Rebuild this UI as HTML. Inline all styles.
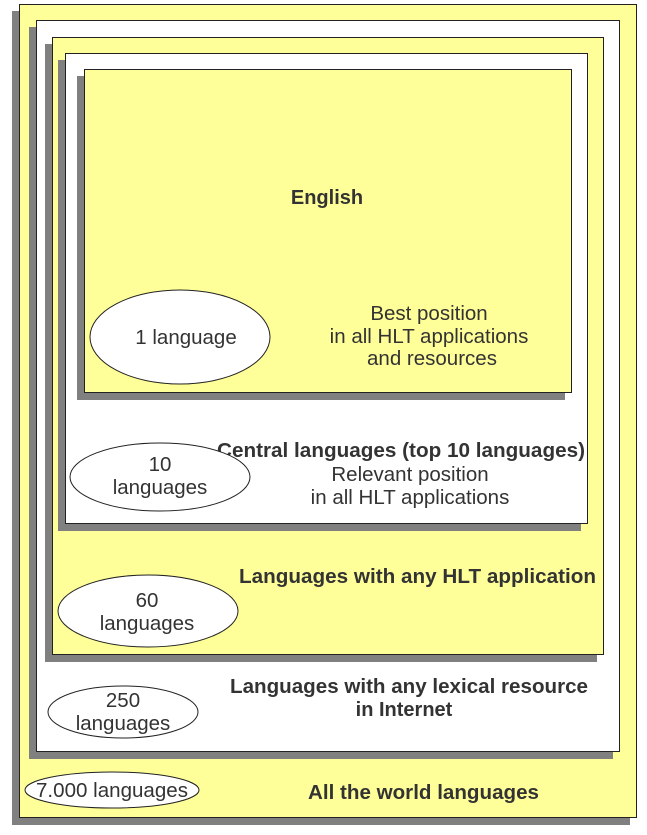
<!DOCTYPE html>
<html><head><meta charset="utf-8"><style>
html,body{margin:0;padding:0;background:#fff;}
svg{display:block;}
text{font-family:"Liberation Sans",sans-serif;fill:#333;}
.b{font-weight:bold;font-size:20px;}
.r{font-size:20.5px;}
</style></head><body>
<svg width="647" height="835" viewBox="0 0 647 835">
<rect x="12" y="11" width="618" height="814" fill="#808080"/>
<rect x="19.5" y="4.5" width="617" height="813" fill="#ffff99" stroke="#222" stroke-width="1"/>
<rect x="29" y="27" width="584" height="732" fill="#808080"/>
<rect x="36.5" y="20.5" width="583" height="731" fill="#fff" stroke="#222"/>
<rect x="45" y="44" width="552" height="618" fill="#808080"/>
<rect x="52.5" y="37.5" width="551" height="617" fill="#ffff99" stroke="#222"/>
<rect x="58" y="60" width="523" height="471" fill="#808080"/>
<rect x="65.5" y="53.5" width="522" height="470" fill="#fff" stroke="#222"/>
<rect x="77" y="76" width="488" height="324" fill="#808080"/>
<rect x="84.5" y="69.5" width="487" height="323" fill="#ffff99" stroke="#222"/>

<text class="b" x="327" y="204" text-anchor="middle">English</text>
<text class="r" x="429" y="320" text-anchor="middle">Best position</text>
<text class="r" x="429" y="343" text-anchor="middle">in all HLT applications</text>
<text class="r" x="432" y="365" text-anchor="middle">and resources</text>

<text class="b" x="217" y="457" textLength="368" lengthAdjust="spacingAndGlyphs">Central languages (top 10 languages)</text>
<text class="r" x="410" y="481" text-anchor="middle">Relevant position</text>
<text class="r" x="410" y="504" text-anchor="middle">in all HLT applications</text>

<text class="b" x="239" y="583" textLength="357" lengthAdjust="spacingAndGlyphs">Languages with any HLT application</text>
<text class="b" x="230" y="693" textLength="358" lengthAdjust="spacingAndGlyphs">Languages with any lexical resource</text>
<text class="b" x="404" y="716" text-anchor="middle">in Internet</text>
<text class="b" x="308" y="799" textLength="231" lengthAdjust="spacingAndGlyphs">All the world languages</text>

<ellipse cx="180" cy="337" rx="90" ry="47" fill="#fff" stroke="#222"/>
<text class="r" x="186" y="344" text-anchor="middle">1 language</text>
<ellipse cx="160" cy="477" rx="90" ry="34" fill="#fff" stroke="#222"/>
<text class="r" x="160" y="471" text-anchor="middle">10</text>
<text class="r" x="160" y="494" text-anchor="middle">languages</text>
<ellipse cx="148" cy="611" rx="90" ry="36" fill="#fff" stroke="#222"/>
<text class="r" x="147" y="607" text-anchor="middle">60</text>
<text class="r" x="147" y="630" text-anchor="middle">languages</text>
<ellipse cx="123" cy="712" rx="75" ry="26" fill="#fff" stroke="#222"/>
<text class="r" x="123" y="707" text-anchor="middle">250</text>
<text class="r" x="123" y="730" text-anchor="middle">languages</text>
<ellipse cx="112" cy="790" rx="87" ry="18" fill="#fff" stroke="#222"/>
<text class="r" x="112" y="797" text-anchor="middle" textLength="152" lengthAdjust="spacingAndGlyphs">7.000 languages</text>
</svg>
</body></html>
